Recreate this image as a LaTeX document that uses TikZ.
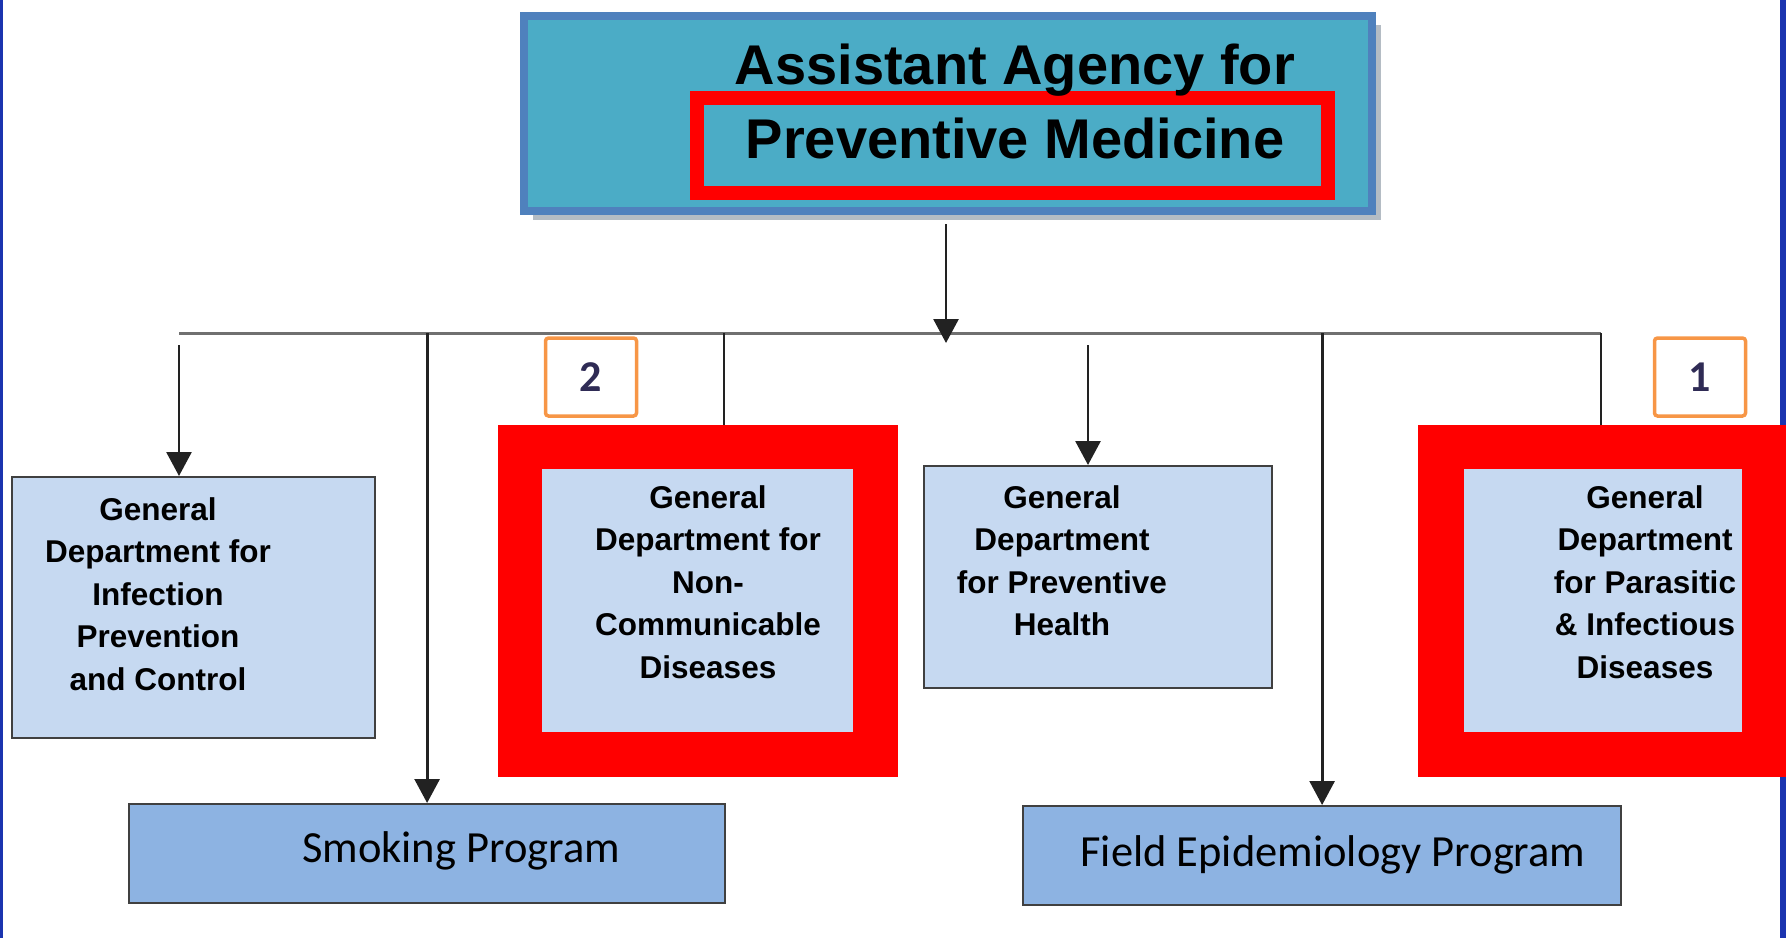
\documentclass[tikz,border=0pt]{standalone}
\usepackage{fontspec}
\setmainfont{Liberation Sans}
\newfontfamily\calibri{Carlito}
\usetikzlibrary{arrows.meta,shadows}

\definecolor{agencyfill}{HTML}{4BACC6}
\definecolor{agencyedge}{HTML}{4F81BD}
\definecolor{agencyshadow}{HTML}{B4BCC4}
\definecolor{deptfill}{HTML}{C6D9F1}
\definecolor{progfill}{HTML}{8DB3E2}
\definecolor{boxedge}{HTML}{404040}
\definecolor{linkdark}{HTML}{222222}
\definecolor{busgray}{HTML}{707070}
\definecolor{markred}{HTML}{FF0000}
\definecolor{badgeorange}{HTML}{F79646}
\definecolor{badgetext}{HTML}{2F2B55}
\definecolor{edgeblue}{HTML}{1B34AF}

\begin{document}
\begin{tikzpicture}[x=1pt,y=-1pt,
  conn/.style={draw=linkdark, line width=2.8pt},
  bus/.style={draw=busgray, line width=3pt},
  arr/.style={conn, -{Triangle[width=25pt,length=24pt]}},
  agencybox/.style={draw=agencyedge, line width=8pt, fill=agencyfill,
    drop shadow={shadow xshift=9pt, shadow yshift=-9pt, fill=agencyshadow, opacity=1},
    inner sep=0pt, anchor=north west},
  redmark/.style={draw=markred, line width=14pt, inner sep=0pt},
  redframe/.style={fill=markred, inner sep=0pt, anchor=north west},
  deptbox/.style={draw=boxedge, line width=2.2pt, fill=deptfill, inner sep=0pt, anchor=north west},
  inbox/.style={fill=deptfill, inner sep=0pt, anchor=north west},
  progbox/.style={draw=boxedge, line width=2.2pt, fill=progfill, inner sep=0pt, anchor=north west},
  depttext/.style={font=\fontsize{31.5}{42.5}\selectfont\bfseries, align=center, inner sep=0pt, anchor=north},
  titletext/.style={font=\fontsize{56}{74}\selectfont\bfseries, align=center, inner sep=0pt, anchor=north},
  progtext/.style={font=\calibri\fontsize{44.5}{50}\selectfont, inner sep=0pt, anchor=base},
  badge/.style={draw=badgeorange, line width=3.5pt, rounded corners=3pt, fill=white,
    minimum width=91pt, minimum height=78pt, inner sep=0pt,
    font=\calibri\bfseries\fontsize{44}{50}\selectfont, text=badgetext},
]
\useasboundingbox (0,0) rectangle (1786,938);

% page edge rules
\fill[edgeblue] (0,0) rectangle (2.5,938);
\fill[edgeblue] (1780,0) rectangle (1786,938);

% head of the agency
\node[agencybox, minimum width=848pt, minimum height=195pt] (agency) at (520,12) {};
\node[redmark, minimum width=631pt, minimum height=95pt] (pmmark) at (1012.5,145.5) {};
\node[titletext] (title) at (1015,44) {Assistant Agency for\\Preventive Medicine};

% departments
\node[deptbox, minimum width=363pt, minimum height=261pt] (ipc) at (11,476) {};
\node[depttext] (ipct) at (158,497) {General\\Department for\\Infection\\Prevention\\and Control};

\node[redframe, minimum width=400pt, minimum height=352pt] (ncdframe) at (498,425) {};
\node[inbox, minimum width=311pt, minimum height=263pt] (ncd) at (542,469) {};
\node[depttext] (ncdt) at (708,485) {General\\Department for\\Non-\\Communicable\\Diseases};

\node[deptbox, minimum width=348pt, minimum height=222pt] (ph) at (923,465) {};
\node[depttext] (pht) at (1062,485) {General\\Department\\for Preventive\\Health};

\node[redframe, minimum width=368pt, minimum height=352pt] (parframe) at (1418,425) {};
\node[inbox, minimum width=278pt, minimum height=263pt] (par) at (1464,469) {};
\node[depttext] (part) at (1645,485) {General\\Department\\for Parasitic\\\& Infectious\\Diseases};

% programs
\node[progbox, minimum width=596pt, minimum height=99pt] (smoke) at (128,803) {};
\node[progtext] (smoket) at (461,862) {Smoking Program};
\node[progbox, minimum width=598pt, minimum height=99pt] (field) at (1022,805) {};
\node[progtext] (fieldt) at (1333,866) {Field Epidemiology Program};

% badges
\node[badge] (b2) at (591,377) {2};
\node[badge] (b1) at (1700,377) {1};

% connectors
\coordinate (busL) at (179,333);
\coordinate (busR) at (1601,333);
\coordinate (hub) at (946,343);
\coordinate (ipcin) at (179,345);
\coordinate (phin) at (1088,345);
\coordinate (ncdtap) at (724,333);

\draw[bus] (busL) -- (busR);
\draw[arr] ([yshift=-9pt]agency.south -| hub) -- (hub);
\draw[conn] (busR) -- (busR |- parframe.north);
\draw[arr] (ipcin) -- (ipcin |- ipc.north);
\draw[arr] (smoke.north |- busL) -- (smoke.north);
\draw[conn] (ncdtap) -- (ncdtap |- ncdframe.north);
\draw[arr] (phin) -- (phin |- ph.north);
\draw[arr] (field.north |- busL) -- (field.north);
\end{tikzpicture}
\end{document}
